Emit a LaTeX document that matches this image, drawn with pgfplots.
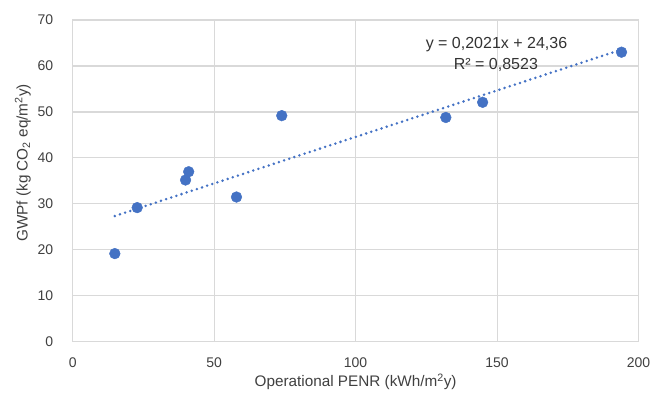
\documentclass[border=0pt]{standalone}
\usepackage{pgfplots}
\pgfplotsset{compat=1.18}
\usepackage{fontspec}
\setmainfont{Liberation Sans}
\definecolor{pt}{HTML}{4472C4}
\definecolor{gridc}{HTML}{D9D9D9}
\begin{document}
\begin{tikzpicture}
\begin{axis}[name=ax, at={(0,0)}, anchor=south west,
  scale only axis, width=566bp, height=322bp,
  xmin=0, xmax=200, ymin=0, ymax=70,
  xtick={0,50,...,200}, ytick={0,10,...,70},
  grid=major, major grid style={gridc, line width=1.1pt},
  axis line style={gridc, line width=1.1pt},
  tick style={draw=none},
  /pgf/number format/assume math mode=true,
  ticklabel style={font=\fontsize{14bp}{16bp}\selectfont, text=black!75},
  yticklabel style={xshift=-16bp},
  xticklabel style={yshift=-12bp},
  xlabel={Operational PENR (kWh/m\textsuperscript{2}y)},
  ylabel={GWPf (kg CO\textsubscript{2} eq/m\textsuperscript{2}y)},
  label style={font=\fontsize{15.3bp}{18bp}\selectfont, text=black!75},
  xlabel style={yshift=0bp},
  ylabel style={yshift=0bp, xshift=18bp},
  clip=false,
]
\addplot[only marks, mark=*, mark size=5.4bp, pt, mark options={draw=pt, fill=pt}] coordinates {
(14.9,19.2) (22.8,29.2) (39.9,35.2) (41.0,37.0) (57.9,31.5) (73.9,49.2) (131.9,48.8) (144.9,52.1) (194.0,63.0)
};
\addplot[pt, line width=2.8bp, line cap=round, dash pattern=on 0pt off 5.4bp] coordinates {(14.9,27.37) (194.0,63.57)};
\node[font=\fontsize{16bp}{18bp}\selectfont, text=black!80] at (axis cs:149.8,64.6) {y = 0,2021x + 24,36};
\node[font=\fontsize{16bp}{18bp}\selectfont, text=black!80] at (axis cs:149.6,60.3) {R² = 0,8523};
\end{axis}
\path[use as bounding box] ([xshift=-72.7bp,yshift=-59.7bp]ax.south west) rectangle ([xshift=16.5bp,yshift=20bp]ax.north east);
\end{tikzpicture}
\end{document}
